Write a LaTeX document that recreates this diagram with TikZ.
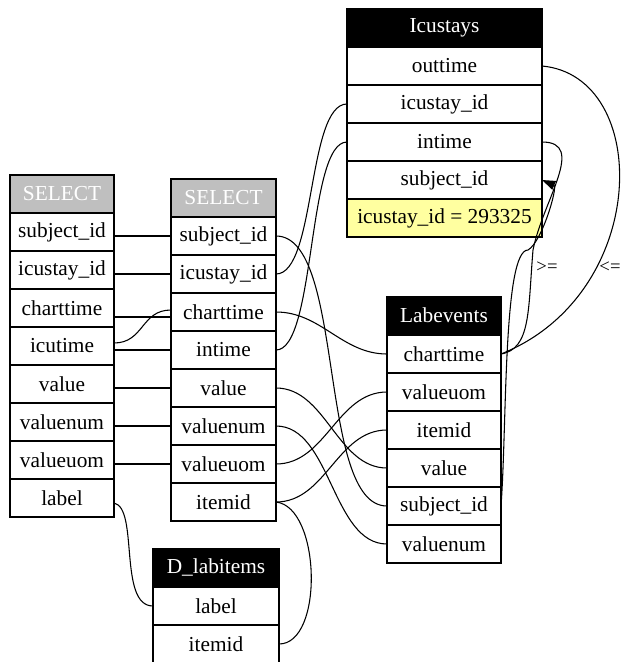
\documentclass[tikz,border=0pt]{standalone}
\usepackage{fontspec}
\setmainfont{Liberation Serif}
\usetikzlibrary{calc,arrows.meta}
\definecolor{selgray}{RGB}{191,191,191}
\definecolor{condyellow}{RGB}{255,255,160}

\begin{document}
\begin{tikzpicture}[x=0.75pt,y=0.75pt,yscale=-1,xscale=1,
  cell/.style={draw,line width=0.9pt,fill=white,inner sep=0pt,outer sep=0pt,minimum height=28.5pt,font=\fontsize{16}{19}\selectfont},
  tophead/.style={cell,fill=black,text=white},
  selhead/.style={cell,fill=selgray,text=white},
  condcell/.style={cell,fill=condyellow},
  wone/.style={minimum width=78pt},
  wtwo/.style={minimum width=78.75pt},
  wicu/.style={minimum width=146.25pt},
  wlab/.style={minimum width=85.5pt},
  wdl/.style={minimum width=94.5pt},
  wire/.style={line width=0.8pt},
  cmp/.style={inner sep=0pt,font=\fontsize{14}{16}\selectfont}]
\useasboundingbox (0,0) rectangle (621,662);
%Table SELECT (outer)
\node[selhead,wone] (s1h) at (62,194) {SELECT};
\node[cell,wone] (s1sub) at (62,232) {subject\_id};
\node[cell,wone] (s1icu) at (62,270) {icustay\_id};
\node[cell,wone] (s1ct) at (62,308) {charttime};
\node[cell,wone] (s1itime) at (62,346) {icutime};
\node[cell,wone] (s1val) at (62,384) {value};
\node[cell,wone] (s1vnum) at (62,422) {valuenum};
\node[cell,wone] (s1vuom) at (62,460) {valueuom};
\node[cell,wone] (s1lab) at (62,498) {label};
%Table SELECT (inner)
\node[selhead,wtwo] (s2h) at (223.5,198) {SELECT};
\node[cell,wtwo] (s2sub) at (223.5,236) {subject\_id};
\node[cell,wtwo] (s2icu) at (223.5,274) {icustay\_id};
\node[cell,wtwo] (s2ct) at (223.5,312) {charttime};
\node[cell,wtwo] (s2in) at (223.5,350) {intime};
\node[cell,wtwo] (s2val) at (223.5,388) {value};
\node[cell,wtwo] (s2vnum) at (223.5,426) {valuenum};
\node[cell,wtwo] (s2vuom) at (223.5,464) {valueuom};
\node[cell,wtwo] (s2item) at (223.5,502) {itemid};
%Table Icustays
\node[tophead,wicu] (ich) at (444.5,27.5) {Icustays};
\node[cell,wicu] (icout) at (444.5,66) {outtime};
\node[cell,wicu] (icicu) at (444.5,104) {icustay\_id};
\node[cell,wicu] (icin) at (444.5,142) {intime};
\node[cell,wicu] (icsub) at (444.5,180) {subject\_id};
\node[condcell,wicu] (iccond) at (444.5,218) {icustay\_id = 293325};
%Table Labevents
\node[tophead,wlab] (labh) at (444,315.5) {Labevents};
\node[cell,wlab] (labct) at (444,354) {charttime};
\node[cell,wlab] (labvuom) at (444,392) {valueuom};
\node[cell,wlab] (labitem) at (444,430) {itemid};
\node[cell,wlab] (labval) at (444,468) {value};
\node[cell,wlab] (labsub) at (444,506) {subject\_id};
\node[cell,wlab] (labvnum) at (444,544) {valuenum};
%Table D_labitems
\node[tophead,wdl] (dlh) at (216,567.5) {D\_labitems};
\node[cell,wdl] (dllab) at (216,606) {label};
\node[cell,wdl] (dlitem) at (216,644) {itemid};
%Wires SELECT -> SELECT
\draw[wire] (s1sub.east |- s2sub.west) -- (s2sub.west);
\draw[wire] (s1icu.east |- s2icu.west) -- (s2icu.west);
\draw[wire] ($(s1ct.east |- s2ct.west)+(0,5)$) -- ($(s2ct.west)+(0,5)$);
\draw[wire] ($(s1itime.east)+(0,-3)$) .. controls +(30,0) and +(-30,0) .. ($(s2ct.west)+(0,-2)$);
\draw[wire] (s1itime.east |- s2in.west) -- (s2in.west);
\draw[wire] (s1val.east |- s2val.west) -- (s2val.west);
\draw[wire] (s1vnum.east |- s2vnum.west) -- (s2vnum.west);
\draw[wire] (s1vuom.east |- s2vuom.west) -- (s2vuom.west);
\draw[wire] ($(s1lab.east)+(0,5)$) .. controls +(25,5) and +(-35,0) .. (dllab.west);
%Wires SELECT -> tables
\draw[wire] (s2sub.east) .. controls +(70,0) and +(-70,0) .. (labsub.west);
\draw[wire] (s2icu.east) .. controls +(40,0) and +(-40,0) .. (icicu.west);
\draw[wire] (s2ct.east) .. controls +(45,0) and +(-45,0) .. (labct.west);
\draw[wire] (s2in.east) .. controls +(40,0) and +(-40,0) .. (icin.west);
\draw[wire] (s2val.east) .. controls +(50,0) and +(-50,0) .. (labval.west);
\draw[wire] (s2vnum.east) .. controls +(55,0) and +(-55,0) .. (labvnum.west);
\draw[wire] (s2vuom.east) .. controls +(50,0) and +(-50,0) .. (labvuom.west);
\draw[wire] (s2item.east) .. controls +(50,0) and +(-50,0) .. (labitem.west);
\draw[wire] (s2item.east) .. controls +(45,5) and +(45,0) .. (dlitem.east);
%Wires Labevents -> Icustays
\coordinate (gebend) at (533,250);
\coordinate (sibend) at (528,250);
\draw[wire] (icout.east) .. controls +(110,10) and +(150,-60) .. (labct.east);
\draw[wire] (icin.east) .. controls +(45,0) and +(10,-50) .. (gebend) .. controls +(-5,60) and +(30,-5) .. (labct.east);
\draw[wire,-{Triangle[length=10pt,width=7pt]}] (labsub.east) .. controls +(6,-80) and +(-25,0) .. (sibend) .. controls +(14,-8) and +(16,7) .. (icsub.east);
\node[cmp] (ge) at (547,267) {>=};
\node[cmp] (le) at (610,267) {<=};
\end{tikzpicture}
\end{document}
